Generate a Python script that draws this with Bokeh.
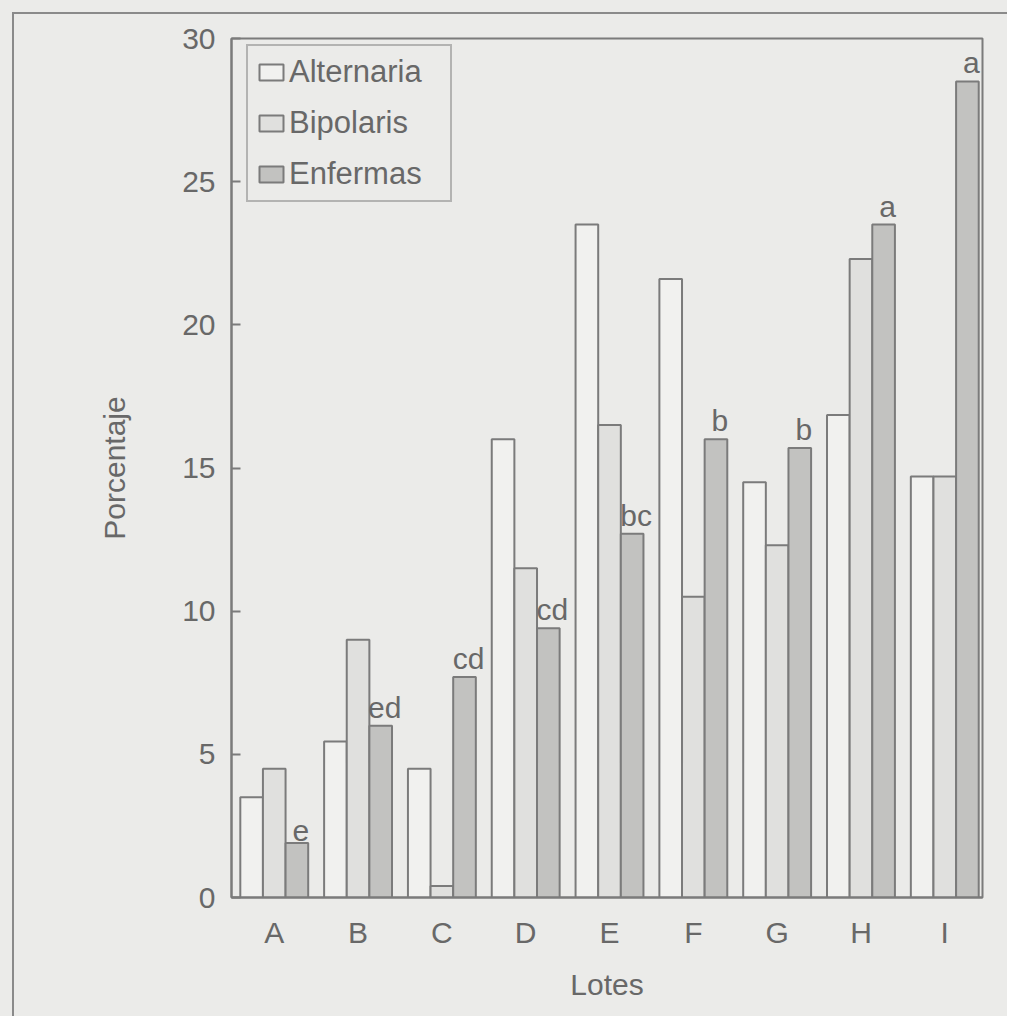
from bokeh.plotting import figure
from bokeh.layouts import column
from bokeh.models import ColumnDataSource, FixedTicker, Range1d, Legend, LegendItem
from bokeh.core.properties import value
from bokeh.embed import file_html
from bokeh.resources import INLINE

lotes = ["A", "B", "C", "D", "E", "F", "G", "H", "I"]
alternaria = [3.5, 5.45, 4.5, 16.0, 23.5, 21.6, 14.5, 16.85, 14.7]
bipolaris = [4.5, 9.0, 0.4, 11.5, 16.5, 10.5, 12.3, 22.3, 14.7]
enfermas = [1.9, 6.0, 7.7, 9.4, 12.7, 16.0, 15.7, 23.5, 28.5]
letras = ["e", "ed", "cd", "cd", "bc", "b", "b", "a", "a"]
y_ticks = [0, 5, 10, 15, 20, 25, 30]

BG = "#ebebe9"
LINE = "#7b7b7b"
TEXT = "#686868"
FONT = "Liberation Sans"
FS = "30px"
W = 0.27

idx = list(range(1, len(lotes) + 1))
src = ColumnDataSource(dict(
    x=idx,
    x_alt=[i - W for i in idx],
    x_bip=idx,
    x_enf=[i + W for i in idx],
    alt=alternaria, bip=bipolaris, enf=enfermas, letra=letras,
))

p = figure(width=995, height=1004, output_backend="svg", toolbar_location=None,
           x_range=Range1d(0.49, 9.45), y_range=Range1d(0, 30),
           min_border_left=217, min_border_top=24, min_border_right=27, min_border_bottom=121,
           background_fill_color=BG, border_fill_color=BG)
p.margin = (12, 0, 0, 12)
p.grid.visible = False
p.outline_line_color = LINE
p.outline_line_width = 2

r_alt = p.vbar(x="x_alt", top="alt", width=W, source=src, fill_color="#f1f1ef",
               line_color=LINE, line_width=2)
r_bip = p.vbar(x="x_bip", top="bip", width=W, source=src, fill_color="#e0e0de",
               line_color=LINE, line_width=2)
r_enf = p.vbar(x="x_enf", top="enf", width=W, source=src, fill_color="#c2c2c0",
               line_color=LINE, line_width=2)

p.text(x="x_enf", y="enf", text="letra", source=src, text_align="center",
       text_baseline="bottom", y_offset=-2, x_offset=4, text_font=value(FONT),
       text_font_size=FS, text_color=TEXT)

# axes
p.xaxis.ticker = FixedTicker(ticks=idx)
p.xaxis.major_label_overrides = {i: l for i, l in zip(idx, lotes)}
p.yaxis.ticker = FixedTicker(ticks=y_ticks)
for ax in (p.xaxis[0], p.yaxis[0]):
    ax.axis_line_color = LINE
    ax.axis_line_width = 2
    ax.major_label_text_font = FONT
    ax.major_label_text_font_size = FS
    ax.major_label_text_color = TEXT
    ax.axis_label_text_font = FONT
    ax.axis_label_text_font_size = FS
    ax.axis_label_text_font_style = "normal"
    ax.axis_label_text_color = TEXT
    ax.minor_tick_line_color = None
p.xaxis.major_tick_line_color = None
p.xaxis.major_label_standoff = 12
p.xaxis.axis_label = "Lotes"
p.xaxis.axis_label_standoff = 16
p.yaxis.major_tick_line_color = LINE
p.yaxis.major_tick_line_width = 2
p.yaxis.major_tick_in = 9
p.yaxis.major_tick_out = 0
p.yaxis.major_label_standoff = 16
p.yaxis.axis_label = "Porcentaje"
p.yaxis.axis_label_standoff = 48

legend = Legend(items=[
    LegendItem(label="Alternaria", renderers=[r_alt]),
    LegendItem(label="Bipolaris", renderers=[r_bip]),
    LegendItem(label="Enfermas", renderers=[r_enf]),
], location="top_left")
legend.label_text_font = FONT
legend.label_text_font_size = "31px"
legend.label_text_color = TEXT
legend.border_line_color = LINE
legend.border_line_width = 2
legend.background_fill_color = BG
legend.background_fill_alpha = 1
legend.glyph_width = 30
legend.glyph_height = 20
legend.label_standoff = 3
legend.label_width = 153
legend.spacing = 15
legend.padding = 8
legend.label_height = 30
p.add_layout(legend, "center")
legend.location = (15, 695)
legend.margin = 0

p.styles = {"border-left": "2px solid #8a8a8a", "border-top": "2px solid #8a8a8a"}

page = column(p, styles={"background-color": BG})
open("out.html", "w").write(file_html(page, INLINE))
